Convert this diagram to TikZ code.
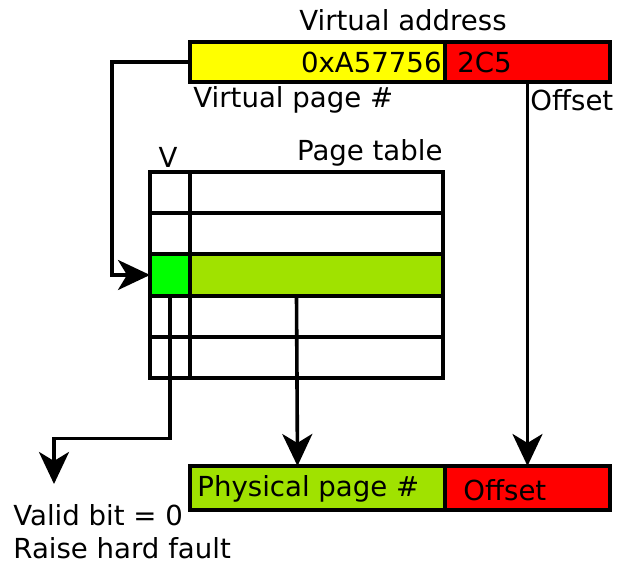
\documentclass[tikz,border=0pt]{standalone}
\usepackage{fontspec}
\setmainfont{DejaVu Sans}
\usetikzlibrary{positioning, arrows.meta}
\definecolor{PageLime}{RGB}{160, 226, 0}
\definecolor{ValidGreen}{RGB}{0, 255, 0}
\definecolor{OffsetRed}{RGB}{255, 0, 0}
\definecolor{VpnYellow}{RGB}{255, 255, 0}

\begin{document}
\begin{tikzpicture}[x=0.5pt, y=-0.5pt,
    every node/.style={font=\fontsize{13.8}{16.8}\selectfont},
    field/.style={draw, line width=2.3pt, minimum height=20pt, inner sep=0pt, outer sep=0pt},
    cell/.style={draw, line width=2pt, minimum height=20.6pt, inner sep=0pt, outer sep=0pt, fill=white},
    conn/.style={line width=1.8pt, -{Stealth[length=16pt, width=15pt, inset=4.5pt]}}]
    \useasboundingbox (0,0) rectangle (617,565);

    % Virtual address
    \node[field, fill=VpnYellow, minimum width=127.5pt] (vpn) at (317.5,62) {};
    \node[field, fill=OffsetRed, minimum width=82.5pt] (voff) at (527.5,62) {};
    \node[anchor=east, inner sep=0pt] (vpnval) at ([xshift=-1.5pt]vpn.east) {0xA57756};
    \node[anchor=west, inner sep=0pt] (voffval) at ([xshift=6pt]voff.west) {2C5};
    \node (vtitle) at (403,20) {Virtual address};
    \node[anchor=west, inner sep=0pt] (vpnlabel) at (193,100) {Virtual page \#};
    \node[anchor=west, inner sep=0pt] (vofflabel) at (530,100) {Offset};

    % Page table
    \foreach \i in {1,...,5} {
      \node[cell, minimum width=20pt] (v\i) at (170,{172+41.2*(\i-0.5)}) {};
      \node[cell, minimum width=126.5pt] (e\i) at (316.5,{172+41.2*(\i-0.5)}) {};
    }
    \node[cell, fill=ValidGreen, minimum width=20pt] at (v3) {};
    \node[cell, fill=PageLime, minimum width=126.5pt] at (e3) {};
    \node[inner sep=0pt] (vhead) at (168,157) {V};
    \node[anchor=east, inner sep=0pt] (ptitle) at (443,153) {Page table};

    % Physical address
    \node[field, fill=PageLime, minimum width=127.5pt, minimum height=22pt] (ppn) at (317.5,488) {};
    \node[field, fill=OffsetRed, minimum width=82.5pt, minimum height=22pt] (poff) at (527.5,488) {};
    \node[anchor=west, inner sep=0pt] (ppnlabel) at (197,489) {Physical page \#};
    \node[anchor=west, inner sep=0pt] (pofflabel) at (463,490) {Offset};

    % Fault
    \coordinate (faulttip) at (54,484);
    \node[anchor=north west, align=left, inner sep=0pt] (fault) at (13,504) {Valid bit = 0\\Raise hard fault};

    % Connectors
    \draw[conn] (vpn.west) -- ++(-78,0) |- (v3.west);
    \draw[conn] (voff.south) -- (poff.north);
    \draw[conn] ([xshift=-10pt]e3.south) -- ([xshift=-10pt]ppn.north);
    \draw[conn] (v3.south) -- ++(0,143) -| (faulttip);
\end{tikzpicture}
\end{document}
